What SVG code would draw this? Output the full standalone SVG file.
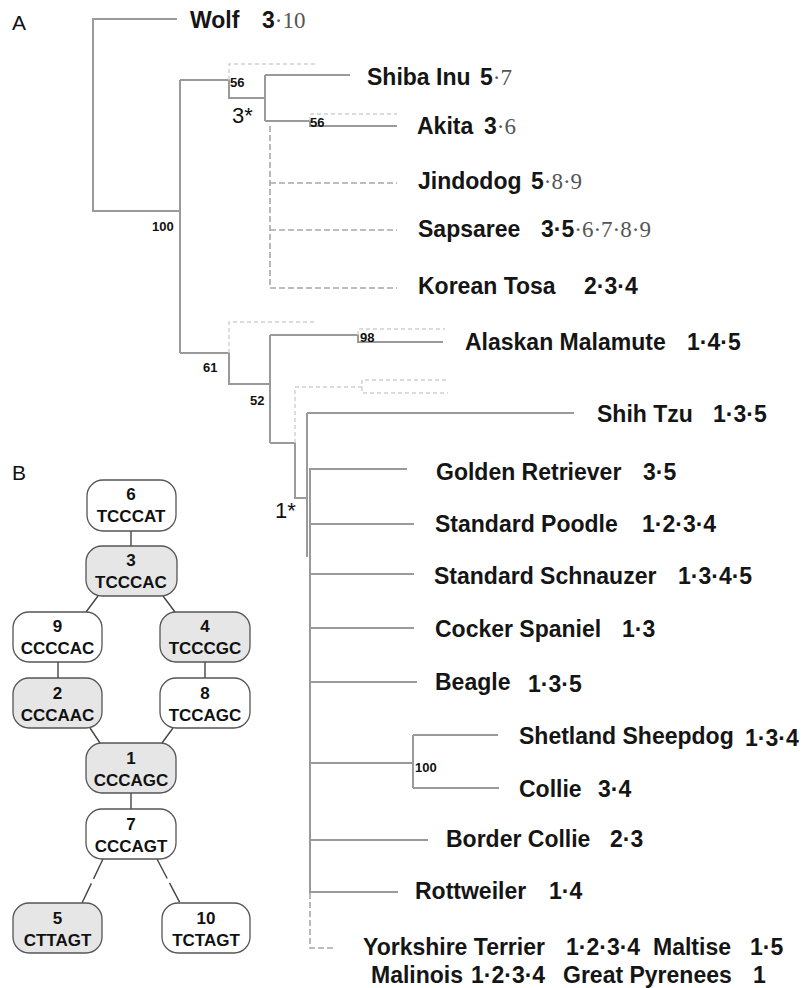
<svg xmlns="http://www.w3.org/2000/svg" width="805" height="988" viewBox="0 0 805 988">
<style>
.bg{fill:#fff}
.br{fill:none;stroke:#9a9a9a;stroke-width:2}
.bd{fill:none;stroke:#a8a8a8;stroke-width:1.6;stroke-dasharray:6 3}
.bl{fill:none;stroke:#cfcfcf;stroke-width:1.4;stroke-dasharray:4 3}
.lab{font-family:"Liberation Sans",Arial,sans-serif;font-size:23px;font-weight:bold;fill:#151515}
.b{font-family:"Liberation Sans",Arial,sans-serif;font-weight:bold;fill:#151515}
.s{font-family:"Liberation Serif","Times New Roman",serif;font-weight:normal;fill:#555}
.num{font-size:23px}
.bs{font-family:"Liberation Sans",Arial,sans-serif;font-size:13px;font-weight:bold;fill:#111}
.star{font-family:"Liberation Sans",Arial,sans-serif;font-size:22px;fill:#111}
.pan{font-family:"Liberation Sans",Arial,sans-serif;font-size:21px;fill:#111}
.nw{fill:#fff;stroke:#555;stroke-width:1.3}
.ng{fill:#e6e6e6;stroke:#555;stroke-width:1.3}
.nt{font-family:"Liberation Sans",Arial,sans-serif;font-size:17px;font-weight:bold;fill:#111;text-anchor:middle}
.cn{fill:none;stroke:#444;stroke-width:1.4}
.cd{fill:none;stroke:#444;stroke-width:1.4;stroke-dasharray:22 5}
</style>
<rect class="bg" x="0" y="0" width="805" height="988"/>
<text class="pan" x="12" y="30">A</text>
<text class="pan" x="12" y="480">B</text>

<g id="tree-connectors">
<path class="br" d="M177,19 H93 V211 H180"/>
<path class="br" d="M180,80 V353"/>
<path class="br" d="M180,80 H229 V98 H265"/>
<path class="br" d="M265,75 V121"/>
<path class="br" d="M265,75 H350"/>
<path class="br" d="M265,121 H310 V126 H397"/>
<path class="bl" d="M310,121 V114 H397"/>
<path class="bl" d="M229,80 V64 H315"/>
<path class="bd" d="M270,126 V288 M270,183 H397 M270,230 H397 M270,288 H397"/>
<path class="br" d="M180,353 H229 V384 H270"/>
<path class="bl" d="M229,353 V322 H315"/>
<path class="br" d="M270,335 V443"/>
<path class="br" d="M270,335 H358 V342 H443"/>
<path class="bl" d="M358,335 V329 H445"/>
<path class="br" d="M270,443 H295 V498 H307"/>
<path class="bl" d="M295,443 V387 H362 V380 H448 M362,387 V393 H448"/>
<path class="br" d="M307,413 V557"/>
<path class="br" d="M307,413 H574"/>
<path class="br" d="M310,468 V893"/>
<path class="bd" d="M310,893 V948 H335"/>
<path class="br" d="M310,469 H407 M310,524 H414 M310,574 H414 M310,628 H414 M310,682 H417 M310,763 H413 M310,840 H428 M310,892 H398"/>
<path class="br" d="M413,735 V788 M413,735 H498 M413,788 H499"/>
</g>

<g id="support-labels">
<text class="bs" x="152" y="231">100</text>
<text class="bs" x="230" y="87">56</text>
<text class="bs" x="310" y="127">56</text>
<text class="bs" x="203" y="372">61</text>
<text class="bs" x="250" y="405">52</text>
<text class="bs" x="360" y="342">98</text>
<text class="bs" x="415" y="772">100</text>
<text class="star" x="232" y="123">3*</text>
<text class="star" x="275" y="518">1*</text>
</g>

<g id="taxa">
<g id="wolf"><text class="lab" x="190" y="28">Wolf</text><text class="num" x="262" y="28"><tspan class="b">3</tspan><tspan class="s">·10</tspan></text></g>
<g id="shiba"><text class="lab" x="367" y="85">Shiba Inu</text><text class="num" x="480" y="85"><tspan class="b">5</tspan><tspan class="s">·7</tspan></text></g>
<g id="akita"><text class="lab" x="417" y="134">Akita</text><text class="num" x="484" y="134"><tspan class="b">3</tspan><tspan class="s">·6</tspan></text></g>
<g id="jindo"><text class="lab" x="418" y="189">Jindodog</text><text class="num" x="531" y="189"><tspan class="b">5</tspan><tspan class="s">·8·9</tspan></text></g>
<g id="sapsaree"><text class="lab" x="418" y="237">Sapsaree</text><text class="num" x="541" y="237"><tspan class="b">3·5</tspan><tspan class="s">·6·7·8·9</tspan></text></g>
<g id="tosa"><text class="lab" x="418" y="294">Korean Tosa</text><text class="num b" x="584" y="294">2·3·4</text></g>
<g id="malamute"><text class="lab" x="465" y="350">Alaskan Malamute</text><text class="num b" x="687" y="350">1·4·5</text></g>
<g id="shihtzu"><text class="lab" x="597" y="422">Shih Tzu</text><text class="num b" x="713" y="422">1·3·5</text></g>
<g id="golden"><text class="lab" x="436" y="480">Golden Retriever</text><text class="num b" x="643" y="480">3·5</text></g>
<g id="poodle"><text class="lab" x="435" y="532">Standard Poodle</text><text class="num b" x="642" y="532">1·2·3·4</text></g>
<g id="schnauzer"><text class="lab" x="434" y="584">Standard Schnauzer</text><text class="num b" x="678" y="584">1·3·4·5</text></g>
<g id="cocker"><text class="lab" x="435" y="637">Cocker Spaniel</text><text class="num b" x="622" y="637">1·3</text></g>
<g id="beagle"><text class="lab" x="435" y="690">Beagle</text><text class="num b" x="528" y="692">1·3·5</text></g>
<g id="sheltie"><text class="lab" x="519" y="744">Shetland Sheepdog</text><text class="num b" x="745" y="746">1·3·4</text></g>
<g id="collie"><text class="lab" x="519" y="797">Collie</text><text class="num b" x="598" y="797">3·4</text></g>
<g id="border"><text class="lab" x="446" y="847">Border Collie</text><text class="num b" x="610" y="847">2·3</text></g>
<g id="rott"><text class="lab" x="415" y="899">Rottweiler</text><text class="num b" x="549" y="899">1·4</text></g>
<g id="yorkie"><text class="lab" x="363" y="955">Yorkshire Terrier</text><text class="num b" x="566" y="955">1·2·3·4</text><text class="lab" x="653" y="955">Maltise</text><text class="num b" x="750" y="955">1·5</text></g>
<g id="malinois"><text class="lab" x="371" y="983">Malinois</text><text class="num b" x="471" y="983">1·2·3·4</text><text class="lab" x="563" y="983">Great Pyrenees</text><text class="num b" x="753" y="983">1</text></g>
</g>

<g id="network-connectors">
<path class="cn" d="M131,531 V546"/>
<path class="cn" d="M98,596 L86,612"/>
<path class="cn" d="M163,596 L175,612"/>
<path class="cn" d="M58,662 V678"/>
<path class="cn" d="M205,662 V678"/>
<path class="cn" d="M90,728 L100,743"/>
<path class="cn" d="M173,728 L162,743"/>
<path class="cn" d="M131,793 V809"/>
<path class="cd" d="M103,859 L82,903"/>
<path class="cd" d="M157,859 L180,903"/>
</g>

<g id="h6"><rect class="nw" x="87" y="480" width="89" height="51" rx="16"/><text class="nt" x="131" y="500">6</text><text class="nt" x="131" y="522">TCCCAT</text></g>
<g id="h3"><rect class="ng" x="86" y="546" width="91" height="50" rx="16"/><text class="nt" x="131" y="566">3</text><text class="nt" x="131" y="588">TCCCAC</text></g>
<g id="h9"><rect class="nw" x="13" y="612" width="89" height="50" rx="16"/><text class="nt" x="57.5" y="632">9</text><text class="nt" x="57.5" y="654">CCCCAC</text></g>
<g id="h4"><rect class="ng" x="160" y="612" width="90" height="50" rx="16"/><text class="nt" x="205" y="632">4</text><text class="nt" x="205" y="654">TCCCGC</text></g>
<g id="h2"><rect class="ng" x="13" y="678" width="89" height="50" rx="16"/><text class="nt" x="57.5" y="699">2</text><text class="nt" x="57.5" y="721">CCCAAC</text></g>
<g id="h8"><rect class="nw" x="160" y="678" width="90" height="50" rx="16"/><text class="nt" x="205" y="699">8</text><text class="nt" x="205" y="721">TCCAGC</text></g>
<g id="h1"><rect class="ng" x="86" y="743" width="90" height="50" rx="16"/><text class="nt" x="131" y="764">1</text><text class="nt" x="131" y="786">CCCAGC</text></g>
<g id="h7"><rect class="nw" x="86" y="809" width="90" height="50" rx="16"/><text class="nt" x="131" y="830">7</text><text class="nt" x="131" y="852">CCCAGT</text></g>
<g id="h5"><rect class="ng" x="13" y="903" width="89" height="50" rx="16"/><text class="nt" x="57.5" y="924">5</text><text class="nt" x="57.5" y="946">CTTAGT</text></g>
<g id="h10"><rect class="nw" x="162" y="903" width="88" height="50" rx="16"/><text class="nt" x="206" y="924">10</text><text class="nt" x="206" y="946">TCTAGT</text></g>
</svg>
